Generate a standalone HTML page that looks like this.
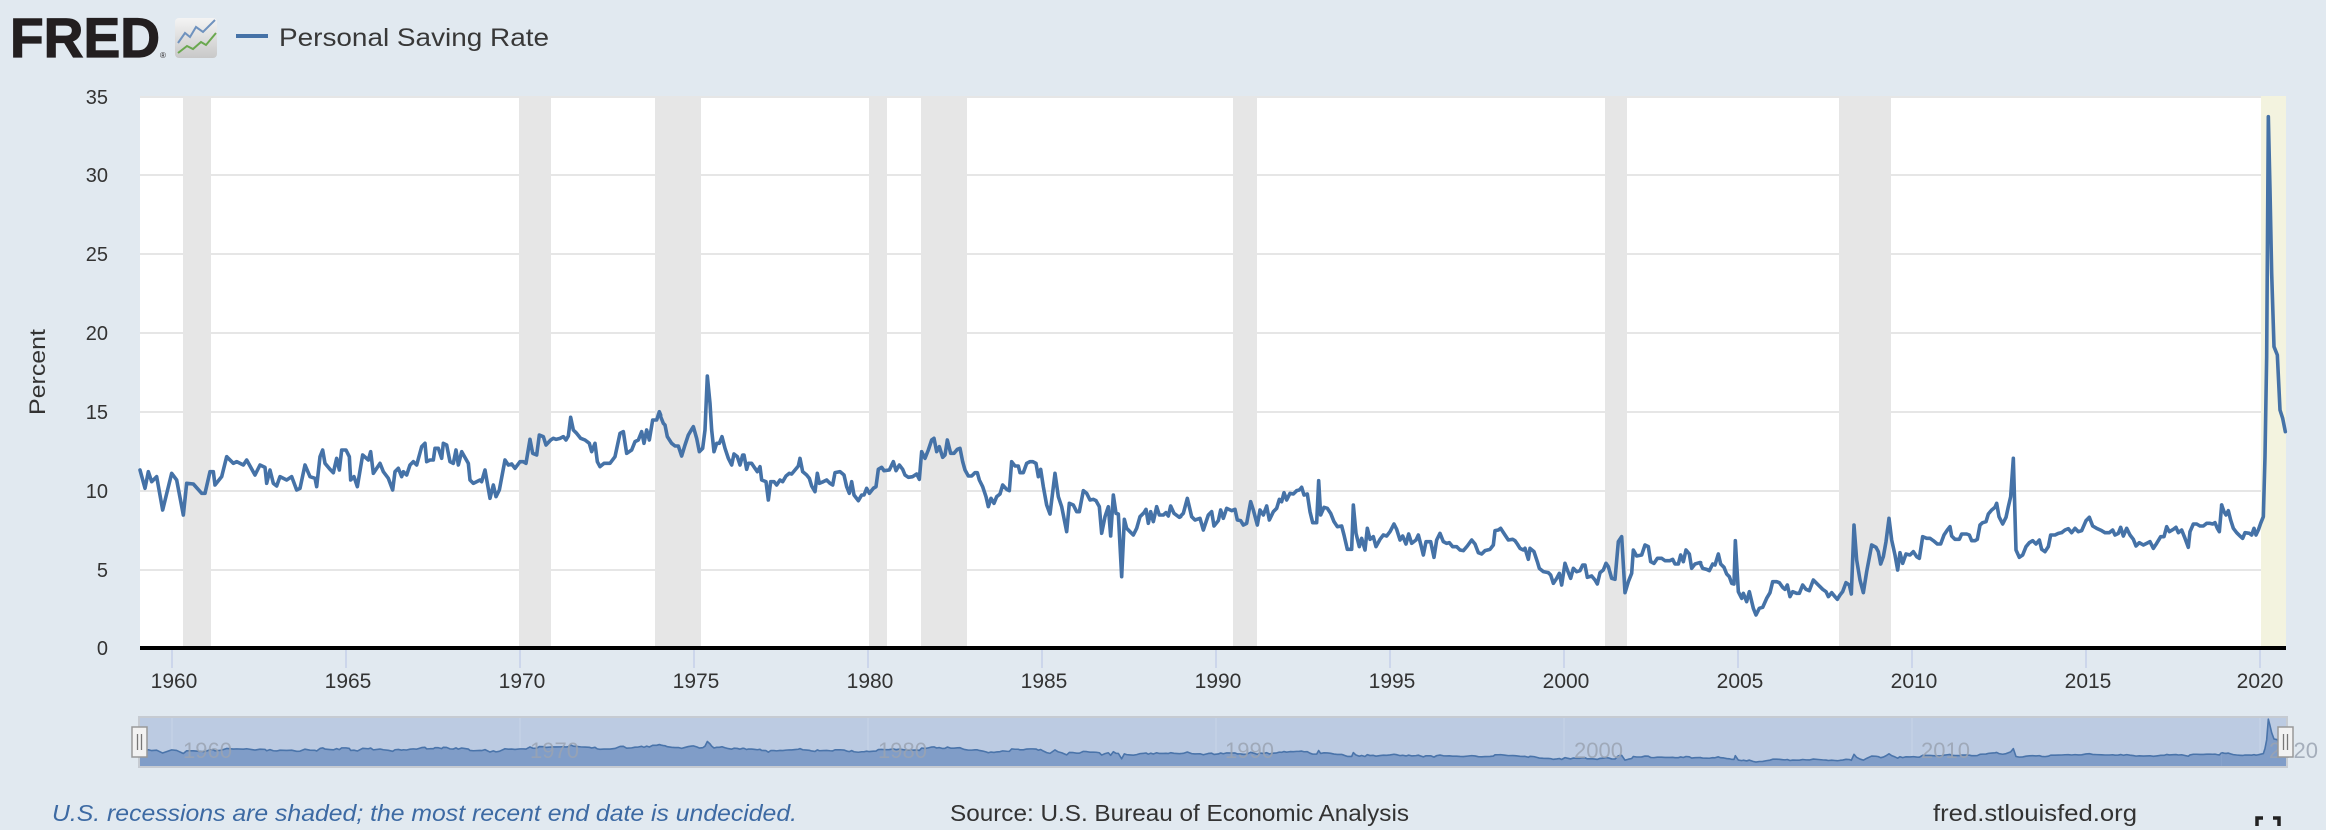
<!DOCTYPE html>
<html><head><meta charset="utf-8"><style>
html,body{margin:0;padding:0;background:#e1e9f0;}
svg{display:block;}
text{font-family:"Liberation Sans",Arial,sans-serif;}
</style></head><body>
<svg width="2326" height="830" viewBox="0 0 2326 830" xmlns="http://www.w3.org/2000/svg">
<defs>
<linearGradient id="ig" x1="0" y1="0" x2="0" y2="1"><stop offset="0" stop-color="#f4f4f4"/><stop offset="1" stop-color="#c8c8c8"/></linearGradient>
<clipPath id="navclip"><rect x="140" y="718" width="2146" height="48"/></clipPath>
</defs>
<rect x="0" y="0" width="2326" height="830" fill="#e1e9f0"/>

<!-- Header -->
<text x="10" y="57" font-size="56" font-weight="bold" fill="#231f20" stroke="#231f20" stroke-width="1.2" textLength="150" lengthAdjust="spacingAndGlyphs">FRED</text>
<text x="160" y="58" font-size="8" fill="#231f20">®</text>
<rect x="175" y="18" width="42" height="40" rx="4" fill="url(#ig)"/>
<polyline points="178,43 185,33 190,37 196,27 203,32 215,20" fill="none" stroke="#6f92be" stroke-width="2"/>
<polyline points="178,53 187,46 193,49 201,42 206,45 216,33" fill="none" stroke="#6aa84f" stroke-width="2"/>
<rect x="236" y="34" width="32" height="4" fill="#4572a7"/>
<text x="279" y="46" font-size="25" fill="#383838" textLength="270" lengthAdjust="spacingAndGlyphs">Personal Saving Rate</text>

<!-- Plot background -->
<rect x="140" y="96" width="2146" height="552" fill="#ffffff"/>
<!-- Gridlines -->
<g stroke="#e6e6e6" stroke-width="2">
<line x1="140" y1="97" x2="2286" y2="97"/>
<line x1="140" y1="175" x2="2286" y2="175"/>
<line x1="140" y1="254" x2="2286" y2="254"/>
<line x1="140" y1="333" x2="2286" y2="333"/>
<line x1="140" y1="412" x2="2286" y2="412"/>
<line x1="140" y1="491" x2="2286" y2="491"/>
<line x1="140" y1="570" x2="2286" y2="570"/>
</g>
<!-- Recession bands -->
<g fill="#e6e6e6">
<rect x="183" y="96" width="28" height="552"/>
<rect x="519" y="96" width="32" height="552"/>
<rect x="655" y="96" width="46" height="552"/>
<rect x="869" y="96" width="18" height="552"/>
<rect x="921" y="96" width="46" height="552"/>
<rect x="1233" y="96" width="24" height="552"/>
<rect x="1605" y="96" width="22" height="552"/>
<rect x="1839" y="96" width="52" height="552"/>
</g>
<rect x="2261" y="96" width="25" height="552" fill="#f3f3df"/>

<!-- Series -->
<g fill="none" stroke="#4572a7" stroke-width="3.6" stroke-linejoin="round" stroke-linecap="round">
<path vector-effect="non-scaling-stroke" transform="translate(140,330) scale(0.333333)" d="M0,420 L15,475 25,425 35,455 50,440 68,540 95,430 110,450 130,555 140,460 160,462 185,490 195,490 210,425 220,425 225,465 245,440 260,380 280,400 290,395 310,405 320,390 345,435 360,405 375,412 380,460 390,420 400,460 410,468 420,440 440,450 455,440 470,480 480,475 495,405 510,440 525,445 530,470 540,380 548,360 555,400 570,418 580,428 590,385 598,420 605,360 618,360 628,380 632,450 642,440 652,470 668,375 685,390 692,365 700,430 720,400 730,425 745,445 758,480 765,425 775,415 785,440 790,425 800,435 810,405 820,395 830,405 845,350 855,340 860,395 870,390 880,390 885,355 895,355 905,385 910,340 920,345 930,395 940,400 948,360 955,405 965,365 985,400 990,450 1000,460 1020,450 1025,455 1035,420 1050,505 1060,465 1068,500 1078,480 1095,390 1105,405 1115,402 1125,415 1140,395 1150,395 1158,400 1170,328 1178,370 1190,375 1198,315 1210,320 1218,345 1232,330 1240,325 1248,328 1260,325 1270,320 1278,330 1285,318 1292,262 1300,300 1310,310 1322,325 1335,330 1348,340 1355,365 1365,340 1372,395 1380,410 1392,400 1410,400 1425,380 1440,310 1450,305 1460,370 1475,360 1485,335 1495,330 1505,305 1512,340 1520,300 1528,330 1538,270 1550,270 1558,245 1562,255"/>
<path vector-effect="non-scaling-stroke" transform="translate(660,330) scale(0.333333)" d="M0,255 L10,280 15,285 22,320 35,340 45,348 55,348 65,378 75,345 85,315 95,298 100,290 110,325 118,365 128,355 135,300 142,138 150,220 155,300 162,365 170,340 178,340 186,320 195,355 205,385 215,405 222,372 232,380 240,405 248,375 252,375 260,418 265,400 275,400 285,415 292,425 300,410 305,450 318,455 325,510 332,455 342,455 350,465 360,450 368,455 378,438 388,430 395,432 405,420 415,408 420,385 428,425 440,435 448,445 455,468 465,485 472,430 478,460 490,455 500,450 510,460 518,465 525,428 540,425 552,435 560,470 568,490 575,455 582,495 595,512 605,495 612,495 620,475 628,490 640,475 648,470 655,418 665,412 672,422 688,420 700,395 708,422 718,405 728,418 735,435 745,442 758,440 770,432 778,448 785,365 795,385 805,360 815,330 822,325 830,365 838,350 848,382 855,375 862,330 872,370 882,370 892,358 900,355 908,395 915,420 925,438 935,438 945,428 952,428 958,450 968,470 978,500 985,530 993,505 1002,520 1010,500 1020,492 1028,465 1040,478 1048,482 1055,395 1065,408 1075,408 1080,428 1090,428 1100,400 1110,395 1118,395 1128,400 1135,440 1142,418 1150,470 1160,525 1170,552 1185,430 1195,500 1205,530 1220,605 1228,520 1240,525 1250,545 1258,545 1270,482 1280,490 1290,510 1300,508 1308,512 1318,530 1325,610 1335,560 1345,530 1352,618 1360,495 1368,550 1375,552 1385,740 1393,568 1400,595 1410,605 1420,615 1430,595 1440,560 1452,548 1458,538 1465,580 1472,545 1480,575 1490,530 1498,555 1510,555 1518,548 1525,558 1532,528 1542,550 1558,562 1562,560"/>
<path vector-effect="non-scaling-stroke" transform="translate(1180,400) scale(0.333333)" d="M0,350 L10,340 22,295 35,350 45,360 60,355 70,390 85,345 95,335 102,378 115,362 122,330 130,355 140,325 155,332 165,328 172,360 182,362 190,375 200,370 212,305 220,330 232,375 240,330 250,345 260,318 268,360 280,335 290,325 298,298 305,305 312,278 320,300 330,280 340,282 350,272 358,270 365,262 372,285 382,282 390,335 398,368 410,368 416,242 422,345 432,322 442,325 452,340 462,365 472,380 485,378 492,405 502,448 515,448 520,315 528,400 538,440 545,415 555,450 562,385 570,418 580,410 588,440 600,418 610,405 620,408 630,395 642,372 650,388 660,420 668,408 678,432 686,402 695,430 708,420 715,405 722,432 730,465 738,425 752,425 762,472 770,420 780,400 790,425 800,430 808,428 818,440 830,440 840,450 850,452 862,438 875,420 885,432 895,458 905,462 915,452 930,448 940,435 945,392 955,390 962,385 975,405 985,420 998,418 1005,422 1012,432 1020,445 1030,450 1035,445 1045,478 1050,445 1062,455 1072,485 1078,505 1090,515 1105,518 1112,525 1120,550 1130,535 1138,520 1145,555 1155,490 1162,510 1172,535 1180,505 1190,515 1200,512 1208,495 1215,495 1222,532 1235,528 1245,540 1252,552 1260,518 1270,510 1278,490 1285,500 1295,535 1305,538 1315,425 1325,410 1335,578 1345,545 1355,520 1360,450 1370,468 1385,465 1395,435 1405,440 1412,485 1422,490 1432,475 1445,475 1455,482 1470,482 1478,478 1485,492 1495,492 1502,465 1510,485 1518,450 1528,462 1535,505 1545,492 1558,488 1562,488"/>
<path vector-effect="non-scaling-stroke" transform="translate(1700,400) scale(0.333333)" d="M0,488 L8,505 20,508 28,512 38,492 45,495 55,462 62,492 72,502 80,522 88,530 95,550 102,552 106,422 115,575 125,595 130,580 140,605 148,575 160,625 168,645 178,625 188,622 200,595 210,578 218,545 230,545 238,548 248,562 255,568 262,555 270,590 278,575 290,580 298,580 308,555 318,568 328,572 340,540 355,555 368,568 378,575 385,590 395,578 405,590 412,598 420,585 428,575 438,548 448,555 454,582 462,375 470,480 480,540 490,578 500,515 510,462 515,435 528,442 535,455 542,492 550,470 558,425 567,355 575,420 585,465 593,510 600,458 608,490 618,462 630,465 640,455 650,470 658,475 668,410 680,415 690,415 700,422 712,432 722,432 732,405 742,390 750,380 755,408 765,418 778,418 785,402 800,402 808,405 815,422 825,422 832,418 840,375 848,368 858,365 865,342 875,330 885,322 890,310 897,350 908,372 918,352 925,320 932,290 940,175 948,450 958,472 968,465 978,440 988,428 998,422 1008,432 1018,420 1025,448 1035,455 1045,440 1052,405 1065,405 1075,400 1085,398 1095,390 1105,386 1115,398 1125,385 1135,395 1145,392 1158,362 1168,352 1178,378 1190,385 1205,392 1215,398 1228,398 1238,390 1245,405 1255,400 1262,382 1270,408 1280,385 1290,405 1300,418 1308,438 1318,428 1330,435 1340,430 1350,425 1360,445 1370,430 1382,410 1392,410 1400,380 1408,395 1420,388 1428,382 1435,398 1445,390 1455,415 1465,442 1470,395 1480,372 1490,372 1500,378 1510,378 1520,370 1530,370 1538,372 1545,368 1552,385 1558,395 1565,315"/>
<path vector-effect="non-scaling-stroke" transform="translate(2190,90) scale(0.333333)" d="M95,1245 L102,1265 108,1275 115,1262 122,1290 130,1315 140,1328 150,1338 158,1345 165,1328 178,1330 185,1335 192,1315 198,1335 205,1320 212,1300 220,1280 225,1100 230,800 235,80 240,300 245,550 252,770 262,795 270,960 278,985 286,1025"/>
</g>

<!-- Zero axis line -->
<rect x="140" y="646" width="2146" height="4" fill="#000"/>
<!-- X ticks -->
<g stroke="#ccd6eb" stroke-width="2">
<line x1="172" y1="650" x2="172" y2="668"/>
<line x1="346" y1="650" x2="346" y2="668"/>
<line x1="520" y1="650" x2="520" y2="668"/>
<line x1="694" y1="650" x2="694" y2="668"/>
<line x1="868" y1="650" x2="868" y2="668"/>
<line x1="1042" y1="650" x2="1042" y2="668"/>
<line x1="1216" y1="650" x2="1216" y2="668"/>
<line x1="1390" y1="650" x2="1390" y2="668"/>
<line x1="1564" y1="650" x2="1564" y2="668"/>
<line x1="1738" y1="650" x2="1738" y2="668"/>
<line x1="1912" y1="650" x2="1912" y2="668"/>
<line x1="2086" y1="650" x2="2086" y2="668"/>
<line x1="2260" y1="650" x2="2260" y2="668"/>
</g>
<g font-size="21" fill="#333" text-anchor="middle">
<text x="174" y="688">1960</text>
<text x="348" y="688">1965</text>
<text x="522" y="688">1970</text>
<text x="696" y="688">1975</text>
<text x="870" y="688">1980</text>
<text x="1044" y="688">1985</text>
<text x="1218" y="688">1990</text>
<text x="1392" y="688">1995</text>
<text x="1566" y="688">2000</text>
<text x="1740" y="688">2005</text>
<text x="1914" y="688">2010</text>
<text x="2088" y="688">2015</text>
<text x="2260" y="688">2020</text>
</g>
<!-- Y labels -->
<g font-size="20" fill="#333" text-anchor="end">
<text x="108" y="104">35</text>
<text x="108" y="182">30</text>
<text x="108" y="261">25</text>
<text x="108" y="340">20</text>
<text x="108" y="419">15</text>
<text x="108" y="498">10</text>
<text x="108" y="577">5</text>
<text x="108" y="655">0</text>
</g>
<text transform="translate(45,372) rotate(-90)" font-size="22" fill="#333" text-anchor="middle" textLength="86" lengthAdjust="spacingAndGlyphs">Percent</text>

<!-- Navigator -->
<rect x="139" y="717" width="2148" height="50" fill="#bccbe2" stroke="#c6cbd2" stroke-width="2"/>
<g stroke="#c9d5e8" stroke-width="1">
<line x1="172" y1="718" x2="172" y2="766"/>
<line x1="520" y1="718" x2="520" y2="766"/>
<line x1="868" y1="718" x2="868" y2="766"/>
<line x1="1216" y1="718" x2="1216" y2="766"/>
<line x1="1564" y1="718" x2="1564" y2="766"/>
<line x1="1912" y1="718" x2="1912" y2="766"/>
<line x1="2260" y1="718" x2="2260" y2="766"/>
</g>
<g clip-path="url(#navclip)">
<g transform="matrix(1,0,0,0.08608,0,709.14)">
<g fill="#809dc8" stroke="none">
<path transform="translate(140,330) scale(0.333333)" d="M0,420 L15,475 25,425 35,455 50,440 68,540 95,430 110,450 130,555 140,460 160,462 185,490 195,490 210,425 220,425 225,465 245,440 260,380 280,400 290,395 310,405 320,390 345,435 360,405 375,412 380,460 390,420 400,460 410,468 420,440 440,450 455,440 470,480 480,475 495,405 510,440 525,445 530,470 540,380 548,360 555,400 570,418 580,428 590,385 598,420 605,360 618,360 628,380 632,450 642,440 652,470 668,375 685,390 692,365 700,430 720,400 730,425 745,445 758,480 765,425 775,415 785,440 790,425 800,435 810,405 820,395 830,405 845,350 855,340 860,395 870,390 880,390 885,355 895,355 905,385 910,340 920,345 930,395 940,400 948,360 955,405 965,365 985,400 990,450 1000,460 1020,450 1025,455 1035,420 1050,505 1060,465 1068,500 1078,480 1095,390 1105,405 1115,402 1125,415 1140,395 1150,395 1158,400 1170,328 1178,370 1190,375 1198,315 1210,320 1218,345 1232,330 1240,325 1248,328 1260,325 1270,320 1278,330 1285,318 1292,262 1300,300 1310,310 1322,325 1335,330 1348,340 1355,365 1365,340 1372,395 1380,410 1392,400 1410,400 1425,380 1440,310 1450,305 1460,370 1475,360 1485,335 1495,330 1505,305 1512,340 1520,300 1528,330 1538,270 1550,270 1558,245 1564,255 L1564,1010 L0,1010 Z"/>
<path transform="translate(660,330) scale(0.333333)" d="M0,255 L10,280 15,285 22,320 35,340 45,348 55,348 65,378 75,345 85,315 95,298 100,290 110,325 118,365 128,355 135,300 142,138 150,220 155,300 162,365 170,340 178,340 186,320 195,355 205,385 215,405 222,372 232,380 240,405 248,375 252,375 260,418 265,400 275,400 285,415 292,425 300,410 305,450 318,455 325,510 332,455 342,455 350,465 360,450 368,455 378,438 388,430 395,432 405,420 415,408 420,385 428,425 440,435 448,445 455,468 465,485 472,430 478,460 490,455 500,450 510,460 518,465 525,428 540,425 552,435 560,470 568,490 575,455 582,495 595,512 605,495 612,495 620,475 628,490 640,475 648,470 655,418 665,412 672,422 688,420 700,395 708,422 718,405 728,418 735,435 745,442 758,440 770,432 778,448 785,365 795,385 805,360 815,330 822,325 830,365 838,350 848,382 855,375 862,330 872,370 882,370 892,358 900,355 908,395 915,420 925,438 935,438 945,428 952,428 958,450 968,470 978,500 985,530 993,505 1002,520 1010,500 1020,492 1028,465 1040,478 1048,482 1055,395 1065,408 1075,408 1080,428 1090,428 1100,400 1110,395 1118,395 1128,400 1135,440 1142,418 1150,470 1160,525 1170,552 1185,430 1195,500 1205,530 1220,605 1228,520 1240,525 1250,545 1258,545 1270,482 1280,490 1290,510 1300,508 1308,512 1318,530 1325,610 1335,560 1345,530 1352,618 1360,495 1368,550 1375,552 1385,740 1393,568 1400,595 1410,605 1420,615 1430,595 1440,560 1452,548 1458,538 1465,580 1472,545 1480,575 1490,530 1498,555 1510,555 1518,548 1525,558 1532,528 1542,550 1558,562 1564,560 L1564,1010 L0,1010 Z"/>
<path transform="translate(1180,400) scale(0.333333)" d="M0,350 L10,340 22,295 35,350 45,360 60,355 70,390 85,345 95,335 102,378 115,362 122,330 130,355 140,325 155,332 165,328 172,360 182,362 190,375 200,370 212,305 220,330 232,375 240,330 250,345 260,318 268,360 280,335 290,325 298,298 305,305 312,278 320,300 330,280 340,282 350,272 358,270 365,262 372,285 382,282 390,335 398,368 410,368 416,242 422,345 432,322 442,325 452,340 462,365 472,380 485,378 492,405 502,448 515,448 520,315 528,400 538,440 545,415 555,450 562,385 570,418 580,410 588,440 600,418 610,405 620,408 630,395 642,372 650,388 660,420 668,408 678,432 686,402 695,430 708,420 715,405 722,432 730,465 738,425 752,425 762,472 770,420 780,400 790,425 800,430 808,428 818,440 830,440 840,450 850,452 862,438 875,420 885,432 895,458 905,462 915,452 930,448 940,435 945,392 955,390 962,385 975,405 985,420 998,418 1005,422 1012,432 1020,445 1030,450 1035,445 1045,478 1050,445 1062,455 1072,485 1078,505 1090,515 1105,518 1112,525 1120,550 1130,535 1138,520 1145,555 1155,490 1162,510 1172,535 1180,505 1190,515 1200,512 1208,495 1215,495 1222,532 1235,528 1245,540 1252,552 1260,518 1270,510 1278,490 1285,500 1295,535 1305,538 1315,425 1325,410 1335,578 1345,545 1355,520 1360,450 1370,468 1385,465 1395,435 1405,440 1412,485 1422,490 1432,475 1445,475 1455,482 1470,482 1478,478 1485,492 1495,492 1502,465 1510,485 1518,450 1528,462 1535,505 1545,492 1558,488 1564,488 L1564,800 L0,800 Z"/>
<path transform="translate(1700,400) scale(0.333333)" d="M0,488 L8,505 20,508 28,512 38,492 45,495 55,462 62,492 72,502 80,522 88,530 95,550 102,552 106,422 115,575 125,595 130,580 140,605 148,575 160,625 168,645 178,625 188,622 200,595 210,578 218,545 230,545 238,548 248,562 255,568 262,555 270,590 278,575 290,580 298,580 308,555 318,568 328,572 340,540 355,555 368,568 378,575 385,590 395,578 405,590 412,598 420,585 428,575 438,548 448,555 454,582 462,375 470,480 480,540 490,578 500,515 510,462 515,435 528,442 535,455 542,492 550,470 558,425 567,355 575,420 585,465 593,510 600,458 608,490 618,462 630,465 640,455 650,470 658,475 668,410 680,415 690,415 700,422 712,432 722,432 732,405 742,390 750,380 755,408 765,418 778,418 785,402 800,402 808,405 815,422 825,422 832,418 840,375 848,368 858,365 865,342 875,330 885,322 890,310 897,350 908,372 918,352 925,320 932,290 940,175 948,450 958,472 968,465 978,440 988,428 998,422 1008,432 1018,420 1025,448 1035,455 1045,440 1052,405 1065,405 1075,400 1085,398 1095,390 1105,386 1115,398 1125,385 1135,395 1145,392 1158,362 1168,352 1178,378 1190,385 1205,392 1215,398 1228,398 1238,390 1245,405 1255,400 1262,382 1270,408 1280,385 1290,405 1300,418 1308,438 1318,428 1330,435 1340,430 1350,425 1360,445 1370,430 1382,410 1392,410 1400,380 1408,395 1420,388 1428,382 1435,398 1445,390 1455,415 1465,442 1470,395 1480,372 1490,372 1500,378 1510,378 1520,370 1530,370 1538,372 1545,368 1552,385 1558,395 1565,315 L1565,800 L0,800 Z"/>
<path transform="translate(2190,90) scale(0.333333)" d="M95,1245 L102,1265 108,1275 115,1262 122,1290 130,1315 140,1328 150,1338 158,1345 165,1328 178,1330 185,1335 192,1315 198,1335 205,1320 212,1300 220,1280 225,1100 230,800 235,80 240,300 245,550 252,770 262,795 270,960 278,985 286,1025 L300,1025 L300,1730 L95,1730 Z"/>
</g>
<g fill="none" stroke="#4a74aa" stroke-width="1.6" stroke-linejoin="round">
<path vector-effect="non-scaling-stroke" transform="translate(140,330) scale(0.333333)" d="M0,420 L15,475 25,425 35,455 50,440 68,540 95,430 110,450 130,555 140,460 160,462 185,490 195,490 210,425 220,425 225,465 245,440 260,380 280,400 290,395 310,405 320,390 345,435 360,405 375,412 380,460 390,420 400,460 410,468 420,440 440,450 455,440 470,480 480,475 495,405 510,440 525,445 530,470 540,380 548,360 555,400 570,418 580,428 590,385 598,420 605,360 618,360 628,380 632,450 642,440 652,470 668,375 685,390 692,365 700,430 720,400 730,425 745,445 758,480 765,425 775,415 785,440 790,425 800,435 810,405 820,395 830,405 845,350 855,340 860,395 870,390 880,390 885,355 895,355 905,385 910,340 920,345 930,395 940,400 948,360 955,405 965,365 985,400 990,450 1000,460 1020,450 1025,455 1035,420 1050,505 1060,465 1068,500 1078,480 1095,390 1105,405 1115,402 1125,415 1140,395 1150,395 1158,400 1170,328 1178,370 1190,375 1198,315 1210,320 1218,345 1232,330 1240,325 1248,328 1260,325 1270,320 1278,330 1285,318 1292,262 1300,300 1310,310 1322,325 1335,330 1348,340 1355,365 1365,340 1372,395 1380,410 1392,400 1410,400 1425,380 1440,310 1450,305 1460,370 1475,360 1485,335 1495,330 1505,305 1512,340 1520,300 1528,330 1538,270 1550,270 1558,245 1562,255"/>
<path vector-effect="non-scaling-stroke" transform="translate(660,330) scale(0.333333)" d="M0,255 L10,280 15,285 22,320 35,340 45,348 55,348 65,378 75,345 85,315 95,298 100,290 110,325 118,365 128,355 135,300 142,138 150,220 155,300 162,365 170,340 178,340 186,320 195,355 205,385 215,405 222,372 232,380 240,405 248,375 252,375 260,418 265,400 275,400 285,415 292,425 300,410 305,450 318,455 325,510 332,455 342,455 350,465 360,450 368,455 378,438 388,430 395,432 405,420 415,408 420,385 428,425 440,435 448,445 455,468 465,485 472,430 478,460 490,455 500,450 510,460 518,465 525,428 540,425 552,435 560,470 568,490 575,455 582,495 595,512 605,495 612,495 620,475 628,490 640,475 648,470 655,418 665,412 672,422 688,420 700,395 708,422 718,405 728,418 735,435 745,442 758,440 770,432 778,448 785,365 795,385 805,360 815,330 822,325 830,365 838,350 848,382 855,375 862,330 872,370 882,370 892,358 900,355 908,395 915,420 925,438 935,438 945,428 952,428 958,450 968,470 978,500 985,530 993,505 1002,520 1010,500 1020,492 1028,465 1040,478 1048,482 1055,395 1065,408 1075,408 1080,428 1090,428 1100,400 1110,395 1118,395 1128,400 1135,440 1142,418 1150,470 1160,525 1170,552 1185,430 1195,500 1205,530 1220,605 1228,520 1240,525 1250,545 1258,545 1270,482 1280,490 1290,510 1300,508 1308,512 1318,530 1325,610 1335,560 1345,530 1352,618 1360,495 1368,550 1375,552 1385,740 1393,568 1400,595 1410,605 1420,615 1430,595 1440,560 1452,548 1458,538 1465,580 1472,545 1480,575 1490,530 1498,555 1510,555 1518,548 1525,558 1532,528 1542,550 1558,562 1562,560"/>
<path vector-effect="non-scaling-stroke" transform="translate(1180,400) scale(0.333333)" d="M0,350 L10,340 22,295 35,350 45,360 60,355 70,390 85,345 95,335 102,378 115,362 122,330 130,355 140,325 155,332 165,328 172,360 182,362 190,375 200,370 212,305 220,330 232,375 240,330 250,345 260,318 268,360 280,335 290,325 298,298 305,305 312,278 320,300 330,280 340,282 350,272 358,270 365,262 372,285 382,282 390,335 398,368 410,368 416,242 422,345 432,322 442,325 452,340 462,365 472,380 485,378 492,405 502,448 515,448 520,315 528,400 538,440 545,415 555,450 562,385 570,418 580,410 588,440 600,418 610,405 620,408 630,395 642,372 650,388 660,420 668,408 678,432 686,402 695,430 708,420 715,405 722,432 730,465 738,425 752,425 762,472 770,420 780,400 790,425 800,430 808,428 818,440 830,440 840,450 850,452 862,438 875,420 885,432 895,458 905,462 915,452 930,448 940,435 945,392 955,390 962,385 975,405 985,420 998,418 1005,422 1012,432 1020,445 1030,450 1035,445 1045,478 1050,445 1062,455 1072,485 1078,505 1090,515 1105,518 1112,525 1120,550 1130,535 1138,520 1145,555 1155,490 1162,510 1172,535 1180,505 1190,515 1200,512 1208,495 1215,495 1222,532 1235,528 1245,540 1252,552 1260,518 1270,510 1278,490 1285,500 1295,535 1305,538 1315,425 1325,410 1335,578 1345,545 1355,520 1360,450 1370,468 1385,465 1395,435 1405,440 1412,485 1422,490 1432,475 1445,475 1455,482 1470,482 1478,478 1485,492 1495,492 1502,465 1510,485 1518,450 1528,462 1535,505 1545,492 1558,488 1562,488"/>
<path vector-effect="non-scaling-stroke" transform="translate(1700,400) scale(0.333333)" d="M0,488 L8,505 20,508 28,512 38,492 45,495 55,462 62,492 72,502 80,522 88,530 95,550 102,552 106,422 115,575 125,595 130,580 140,605 148,575 160,625 168,645 178,625 188,622 200,595 210,578 218,545 230,545 238,548 248,562 255,568 262,555 270,590 278,575 290,580 298,580 308,555 318,568 328,572 340,540 355,555 368,568 378,575 385,590 395,578 405,590 412,598 420,585 428,575 438,548 448,555 454,582 462,375 470,480 480,540 490,578 500,515 510,462 515,435 528,442 535,455 542,492 550,470 558,425 567,355 575,420 585,465 593,510 600,458 608,490 618,462 630,465 640,455 650,470 658,475 668,410 680,415 690,415 700,422 712,432 722,432 732,405 742,390 750,380 755,408 765,418 778,418 785,402 800,402 808,405 815,422 825,422 832,418 840,375 848,368 858,365 865,342 875,330 885,322 890,310 897,350 908,372 918,352 925,320 932,290 940,175 948,450 958,472 968,465 978,440 988,428 998,422 1008,432 1018,420 1025,448 1035,455 1045,440 1052,405 1065,405 1075,400 1085,398 1095,390 1105,386 1115,398 1125,385 1135,395 1145,392 1158,362 1168,352 1178,378 1190,385 1205,392 1215,398 1228,398 1238,390 1245,405 1255,400 1262,382 1270,408 1280,385 1290,405 1300,418 1308,438 1318,428 1330,435 1340,430 1350,425 1360,445 1370,430 1382,410 1392,410 1400,380 1408,395 1420,388 1428,382 1435,398 1445,390 1455,415 1465,442 1470,395 1480,372 1490,372 1500,378 1510,378 1520,370 1530,370 1538,372 1545,368 1552,385 1558,395 1565,315"/>
<path vector-effect="non-scaling-stroke" transform="translate(2190,90) scale(0.333333)" d="M95,1245 L102,1265 108,1275 115,1262 122,1290 130,1315 140,1328 150,1338 158,1345 165,1328 178,1330 185,1335 192,1315 198,1335 205,1320 212,1300 220,1280 225,1100 230,800 235,80 240,300 245,550 252,770 262,795 270,960 278,985 286,1025"/>
</g>
</g>
</g>
<g font-size="22" fill="#9aa3b2" fill-opacity="0.85">
<text x="183" y="758">1960</text>
<text x="530" y="758">1970</text>
<text x="878" y="758">1980</text>
<text x="1225" y="758">1990</text>
<text x="1574" y="758">2000</text>
<text x="1921" y="758">2010</text>
<text x="2269" y="758">2020</text>
</g>
<!-- handles -->
<g>
<rect x="132" y="727" width="15" height="30" fill="#f2f2f2" stroke="#999" stroke-width="1.5"/>
<line x1="137.5" y1="734" x2="137.5" y2="750" stroke="#777" stroke-width="1.3"/>
<line x1="141.5" y1="734" x2="141.5" y2="750" stroke="#777" stroke-width="1.3"/>
<rect x="2278" y="727" width="15" height="30" fill="#f2f2f2" stroke="#999" stroke-width="1.5"/>
<line x1="2283.5" y1="734" x2="2283.5" y2="750" stroke="#777" stroke-width="1.3"/>
<line x1="2287.5" y1="734" x2="2287.5" y2="750" stroke="#777" stroke-width="1.3"/>
</g>

<!-- Footer -->
<text x="52" y="821" font-size="23" font-style="italic" fill="#3d6aa3" textLength="745" lengthAdjust="spacingAndGlyphs">U.S. recessions are shaded; the most recent end date is undecided.</text>
<text x="950" y="821" font-size="23" fill="#333" textLength="459" lengthAdjust="spacingAndGlyphs">Source: U.S. Bureau of Economic Analysis</text>
<text x="1933" y="821" font-size="23" fill="#333" textLength="204" lengthAdjust="spacingAndGlyphs">fred.stlouisfed.org</text>
<g fill="none" stroke="#222" stroke-width="3.5">
<path d="M2257,826 V818 H2263"/>
<path d="M2273,818 H2279 V826"/>
</g>
</svg>
</body></html>
